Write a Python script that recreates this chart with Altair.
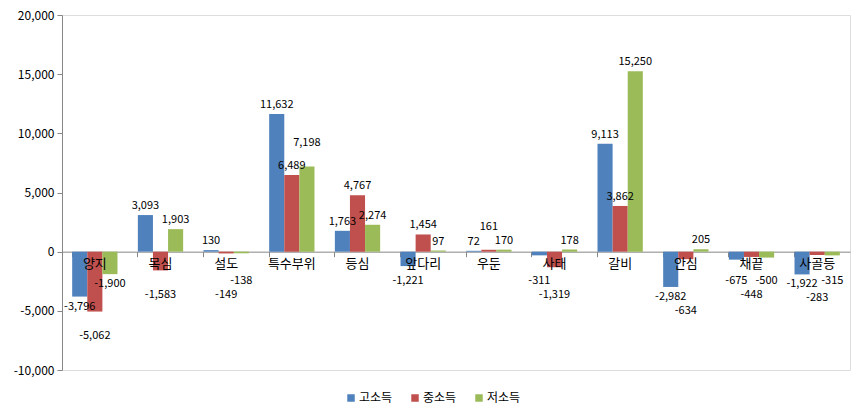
import altair as alt
import pandas as pd

categories = ["양지", "목심", "설도", "특수부위", "등심", "앞다리", "우둔", "사태", "갈비", "안심", "채끝", "사골등"]
series = ["고소득", "중소득", "저소득"]
high = [-3796, 3093, 130, 11632, 1763, -1221, 72, -311, 9113, -2982, -675, -1922]
mid = [-5062, -1583, -149, 6489, 4767, 1454, 161, -1319, 3862, -634, -448, -283]
low = [-1900, 1903, -138, 7198, 2274, 97, 170, 178, 15250, 205, -500, -315]
colors = ["#4F81BD", "#C0504D", "#9BBB59"]
y_ticks = [-10000, -5000, 0, 5000, 10000, 15000, 20000]

rows = []
for s, vals in zip(series, [high, mid, low]):
    for c, v in zip(categories, vals):
        rows.append({"category": c, "series": s, "value": v})
df = pd.DataFrame(rows)
cat_df = pd.DataFrame({"category": categories})

W, H = 788, 355
FONT = "Noto Sans CJK KR"
FMT = "replace(format(datum.value, ',d'), '\u2212', '-')"

x_enc = alt.X("category:N", sort=categories,
              scale=alt.Scale(paddingInner=0.31, paddingOuter=0.155),
              axis=alt.Axis(title=None, labels=False, ticks=True, tickSize=5,
                            bandPosition=0, domainColor="#868686", tickColor="#868686",
                            offset=-H / 3))
x_plain = alt.X("category:N", sort=categories)
y_scale = alt.Scale(domain=[-10000, 20000], nice=False)
y_enc = alt.Y("value:Q", scale=y_scale,
              axis=alt.Axis(title=None, values=y_ticks, labelExpr=FMT, grid=False,
                            domainColor="#868686", tickColor="#868686", tickSize=5,
                            labelFontSize=12, labelColor="#000000", labelPadding=3))
xoff = alt.XOffset("series:N", sort=series, scale=alt.Scale(paddingInner=0, paddingOuter=0))

bars = alt.Chart(df).mark_bar().encode(
    x=x_enc, y=y_enc, xOffset=xoff,
    color=alt.Color("series:N", sort=series,
                    scale=alt.Scale(domain=series, range=colors),
                    legend=alt.Legend(title=None, orient="none", direction="horizontal",
                                      legendX=283, legendY=377, symbolType="square",
                                      symbolSize=56, symbolStrokeWidth=0,
                                      labelFontSize=12, labelFont=FONT,
                                      columnPadding=16, labelOffset=2)),
)

labels_base = alt.Chart(df).transform_calculate(
    label=FMT,
    blueval="datum.series == '고소득' ? datum.value : 0",
    redval="datum.series == '중소득' ? datum.value : -1e9",
).transform_joinaggregate(
    bmin="min(blueval)", rmax="max(redval)", groupby=["category"]
).transform_calculate(
    raised="(datum.series == '중소득' && datum.value < 1000) || "
           "(datum.series == '저소득' && datum.rmax >= 1000 && datum.value > datum.rmax "
           "&& datum.value - datum.rmax < 1500)"
)

# positive labels: above the bar end (lifted one line where they would collide)
pos_main = labels_base.transform_filter("datum.value >= 0 && !datum.raised").mark_text(
    baseline="bottom", dy=-4, fontSize=11, font=FONT, color="#000000").encode(
    x=x_plain, y=alt.Y("value:Q"), xOffset=xoff, text="label:N")

pos_raised = labels_base.transform_filter("datum.value >= 0 && datum.raised").mark_text(
    baseline="bottom", dy=-18, fontSize=11, font=FONT, color="#000000").encode(
    x=x_plain, y=alt.Y("value:Q"), xOffset=xoff, text="label:N")

# negative labels: below the bar end, kept clear of the category names
neg_main = labels_base.transform_filter(
    "datum.value < 0 && datum.series != '중소득'"
).transform_calculate(anchor="min(datum.value, -1600)").mark_text(
    baseline="top", dy=4, fontSize=11, font=FONT, color="#000000").encode(
    x=x_plain, y=alt.Y("anchor:Q"), xOffset=xoff, text="label:N")

neg_red = labels_base.transform_filter(
    "datum.value < 0 && datum.series == '중소득'"
).transform_calculate(anchor="min(datum.value, datum.bmin, -1600)").mark_text(
    baseline="top", dy=18, fontSize=11, font=FONT, color="#000000").encode(
    x=x_plain, y=alt.Y("anchor:Q"), xOffset=xoff, text="label:N")

cat_labels = alt.Chart(cat_df).mark_text(
    baseline="top", dy=6, fontSize=13, font=FONT, color="#000000"
).encode(x=x_plain, y=alt.datum(0), text="category:N")

chart = alt.layer(bars, pos_main, pos_raised, neg_main, neg_red, cat_labels).properties(
    width=W, height=H,
    autosize=alt.AutoSizeParams(type="none"),
    padding={"left": 62, "top": 15, "right": 14, "bottom": 47},
    background="white",
).configure_view(stroke=None).configure(font=FONT)

chart.save("out.html", embed_options={"renderer": "svg", "actions": False})
